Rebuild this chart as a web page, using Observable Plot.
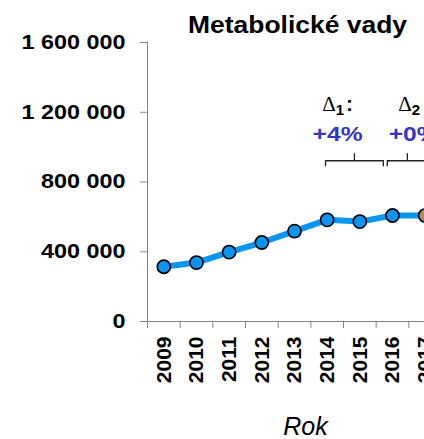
<!DOCTYPE html>
<html>
<head>
<meta charset="utf-8">
<script src="https://cdn.jsdelivr.net/npm/d3@7"></script>
<script src="https://cdn.jsdelivr.net/npm/@observablehq/plot@0.6"></script>
<style>
  html, body { margin: 0; padding: 0; background: #fff; overflow: hidden; width: 424px; height: 439px; }
  #chart { position: relative; width: 424px; height: 439px; overflow: hidden; }
  #chart svg { font-family: "Liberation Sans", Arial, sans-serif; max-width: none !important; height: 439px !important; width: 460px !important; display: block; }
</style>
</head>
<body>
<div id="chart"></div>
<script>
// ---- data ----
const years = [2009, 2010, 2011, 2012, 2013, 2014, 2015, 2016, 2017];
const values = [314000, 338000, 398000, 453000, 518000, 583000, 573000, 608000, 608000];
const pointKind = ["actual", "actual", "actual", "actual", "actual", "actual", "actual", "actual", "estimate"];
const yTicks = [0, 400000, 800000, 1200000, 1600000];
const yTickLabels = ["0", "400 000", "800 000", "1 200 000", "1 600 000"];
const deltaNames = ["1", "2"];
const deltaValues = ["+4%", "+0%"];
const deltaFrom = [2013.95, 2015.84];
const deltaTo = [2015.72, 2017.07];
const deltaLabelAt = [2014.32, 2016.65];
const bracketLevel = 922000;
const titleText = "Metabolické vady";
const xTitle = "Rok";

// ---- chart ----
const yMax = 1600000;
const plotH = 279; // pixel height of plot frame
const u = yMax / plotH; // value per pixel
const halfYears = years.map(y => y - 0.5).concat([years[years.length - 1] + 0.5]);
const points = years.map((y, i) => ({year: y, value: values[i], kind: pointKind[i]}));
const deltas = deltaNames.map((n, i) => ({name: n, value: deltaValues[i], from: deltaFrom[i], to: deltaTo[i], at: deltaLabelAt[i]}));

const bracketPaths = deltas.map(d => [
  {x: d.from, y: bracketLevel - 5 * u},
  {x: d.from, y: bracketLevel},
  {x: d.to, y: bracketLevel},
  {x: d.to, y: bracketLevel - 5 * u}
]);

const axisColor = "#868686";

const chart = Plot.plot({
  width: 460,
  height: 439,
  marginLeft: 147,
  marginRight: 19,
  marginTop: 42,
  marginBottom: 118,
  x: {domain: [years[0] - 0.5, years[years.length - 1] + 0.5], axis: null},
  y: {domain: [0, yMax], axis: null},
  marks: [
    Plot.axisY({ticks: yTicks, tickSize: 7, tickPadding: 15, tickFormat: d => yTickLabels[yTicks.indexOf(d)],
      fontSize: 19.5, fontWeight: "bold", stroke: axisColor, fill: "black", label: null}),
    Plot.axisX({ticks: halfYears, tickSize: 7, tickFormat: () => "", stroke: axisColor, label: null}),
    Plot.axisX({ticks: years, tickSize: 0, tickPadding: 15, tickRotate: -90, tickFormat: d => String(d),
      fontSize: 21, fontWeight: "bold", fill: "black", label: null}),
    Plot.ruleX([years[0] - 0.5], {stroke: axisColor, strokeWidth: 1}),
    Plot.ruleY([0], {stroke: axisColor, strokeWidth: 1}),
    Plot.line(points, {x: "year", y: "value", stroke: "#0a96f0", strokeWidth: 6}),
    Plot.dot(points, {x: "year", y: "value", r: 6.6, stroke: "black", strokeWidth: 1.6,
      fill: d => d.kind === "estimate" ? "#a38d6d" : "#0b93f0"}),
    ...bracketPaths.map(p => Plot.line(p, {x: "x", y: "y", stroke: "#222", strokeWidth: 1.3})),
    Plot.ruleX(deltas, {x: d => (d.from + d.to) / 2, y1: bracketLevel, y2: bracketLevel + 7 * u, stroke: "#222", strokeWidth: 1.3}),
    Plot.text(deltas, {x: "at", y: bracketLevel, dy: -26, text: "value", fill: "#3535c8", fontSize: 20, fontWeight: "bold", className: "delta-val"}),
    Plot.text(deltas, {x: "at", y: bracketLevel, dy: -56, text: d => "Δ" + d.name + ":", fill: "black", fontSize: 20, fontWeight: "bold", className: "delta-head"})
  ]
});

chart.style.maxWidth = "none";
chart.style.width = "460px";
chart.style.height = "439px";
const host = document.getElementById("chart");
host.appendChild(chart);
const svg = d3.select(chart);

// title and axis title as text
svg.append("text").attr("class", "title").attr("x", 297.5).attr("y", 33.3)
  .attr("text-anchor", "middle").attr("font-size", 23).attr("font-weight", "bold")
  .attr("font-family", "Liberation Sans").text(titleText);
svg.append("text").attr("x", 305.5).attr("y", 435)
  .attr("text-anchor", "middle").attr("font-size", 25).attr("font-style", "italic")
  .attr("font-family", "Liberation Sans").text(xTitle);

function stretch(el, target) {
  el.setAttribute("textLength", target);
  el.setAttribute("lengthAdjust", "spacingAndGlyphs");
}
// title
stretch(svg.select("text.title").node(), 219);
// y tick labels: stretch horizontally
const yLabelEls = svg.selectAll('g[aria-label="y-axis tick label"] text').nodes();
let ref = yLabelEls.find(e => e.textContent === "1 600 000");
const factor = 104 / ref.getComputedTextLength();
yLabelEls.forEach(e => stretch(e, e.getComputedTextLength() * factor));
// delta values
svg.selectAll("g.delta-val text").nodes().forEach(e => stretch(e, 50));
// delta headers with subscripts
svg.selectAll("g.delta-head text").nodes().forEach(e => {
  const t = e.textContent; const n = t.slice(1, -1);
  e.textContent = "";
  const ns = "http://www.w3.org/2000/svg";
  const a = document.createElementNS(ns, "tspan"); a.textContent = "Δ";
  a.setAttribute("font-family", "Liberation Serif"); a.setAttribute("font-weight", "normal"); a.setAttribute("font-size", 21);
  const b = document.createElementNS(ns, "tspan"); b.textContent = n; b.setAttribute("dy", 4); b.setAttribute("font-size", 15);
  const c = document.createElementNS(ns, "tspan"); c.textContent = ":"; c.setAttribute("dy", -4); c.setAttribute("dx", 2); c.setAttribute("font-size", 21);
  e.appendChild(a); e.appendChild(b); e.appendChild(c);
});
</script>
</body>
</html>
